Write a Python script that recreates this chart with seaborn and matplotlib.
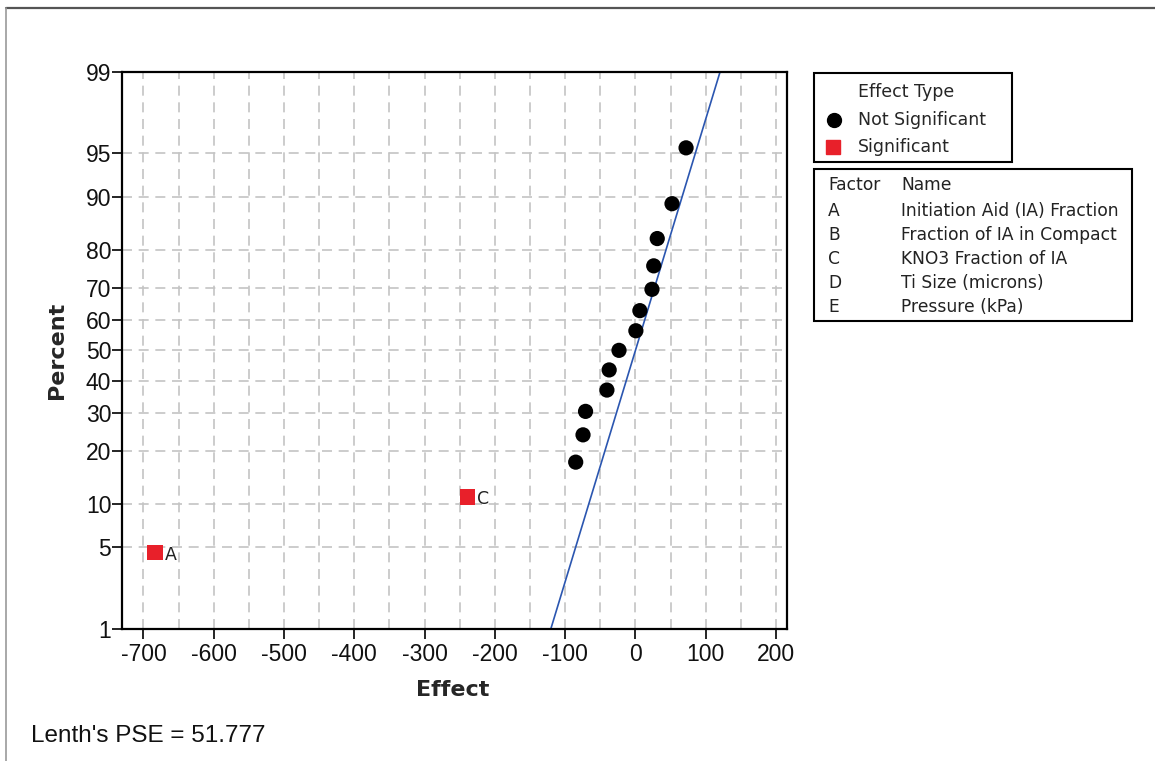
import numpy as np
import pandas as pd
import seaborn as sns
import matplotlib
matplotlib.use("Agg")
import matplotlib.pyplot as plt
from matplotlib.patches import Rectangle
from matplotlib.lines import Line2D
from statistics import NormalDist

# ---------------- data ----------------
effects = [-683.5, -239.0, -85.0, -74.6, -71.0, -40.6, -37.4, -23.4,
           0.6, 6.3, 23.5, 26.0, 31.0, 52.0, 72.0]
effect_type = ["Significant", "Significant"] + ["Not Significant"] * 13
point_labels = ["A", "C"] + [""] * 13
lenth_pse = 51.777
y_ticks_pct = [1, 5, 10, 20, 30, 40, 50, 60, 70, 80, 90, 95, 99]
x_ticks = [-700, -600, -500, -400, -300, -200, -100, 0, 100, 200]
factors = ["A", "B", "C", "D", "E"]
factor_names = ["Initiation Aid (IA) Fraction", "Fraction of IA in Compact",
                "KNO3 Fraction of IA", "Ti Size (microns)", "Pressure (kPa)"]

nd = NormalDist()
n = len(effects)
pct = [(i + 1 - 0.3) / (n + 0.4) for i in range(n)]
df = pd.DataFrame({"Effect": effects,
                   "z": [nd.inv_cdf(p) for p in pct],
                   "Type": effect_type,
                   "Label": point_labels})

# ---------------- figure ----------------
sns.set_style("white")
plt.rcParams['font.family'] = ['DejaVu Sans']
TICK_FONT = ['Liberation Sans', 'DejaVu Sans']
W, H = 1155, 761
fig = plt.figure(figsize=(W / 100, H / 100), dpi=100)

def fx(px):
    return px / W

def fy(py):
    return 1 - py / H

AX_L, AX_R, AX_T, AX_B = 121.7, 787, 71.7, 629
ax = fig.add_axes([fx(AX_L), fy(AX_B), fx(AX_R) - fx(AX_L), fy(AX_T) - fy(AX_B)])

zlo, zhi = nd.inv_cdf(0.01), nd.inv_cdf(0.99)

# grid
grid_kw = dict(color="#c4c4c4", lw=1.2, ls=(0, (6, 4)), zorder=0)
for xv in np.arange(-700, 201, 50):
    ax.axvline(xv, **grid_kw)
for p in y_ticks_pct[1:-1]:
    ax.axhline(nd.inv_cdf(p / 100), **grid_kw)

# fitted line
zz = np.linspace(zlo, zhi, 50)
line_df = pd.DataFrame({"Effect": lenth_pse * zz, "z": zz})
sns.lineplot(data=line_df, x="Effect", y="z", ax=ax, color="#2b56b0",
             lw=1.2, sort=False, zorder=2)

# points
sns.scatterplot(data=df, x="Effect", y="z", hue="Type", style="Type",
                palette={"Not Significant": "black", "Significant": "#e8202a"},
                markers={"Not Significant": "o", "Significant": "s"},
                s=120, linewidth=0, legend=False, ax=ax, zorder=3)
for _, r in df.iterrows():
    if r["Label"]:
        ax.annotate(r["Label"], (r["Effect"], r["z"]), xytext=(7, -5),
                    textcoords="offset points", fontsize=12.5, color="#222222",
                    family="DejaVu Sans")

ax.set_xlim(-730.9, 215.6)
ax.set_ylim(zlo, zhi)
ax.set_xticks(x_ticks)
ax.set_xticklabels([str(v) for v in x_ticks])
ax.set_yticks([nd.inv_cdf(p / 100) for p in y_ticks_pct])
ax.set_yticklabels([str(p) for p in y_ticks_pct])
for lab in ax.get_xticklabels() + ax.get_yticklabels():
    lab.set_family(TICK_FONT)
    lab.set_fontsize(16.5)
    lab.set_color("#111111")
ax.tick_params(axis="both", direction="out", length=7, width=1.2, color="black",
               bottom=True, left=True)
ax.tick_params(axis="y", pad=0.5)
ax.tick_params(axis="x", pad=3)
for sp in ax.spines.values():
    sp.set_color("black")
    sp.set_linewidth(1.6)
ax.set_xlabel("")
ax.set_ylabel("")

fig.text(fx(453), fy(690), "Effect", ha="center", va="center",
         fontsize=16, fontweight="bold")
fig.text(fx(57), fy(350), "Percent", ha="center", va="center",
         fontsize=16, fontweight="bold", rotation=90)
fig.text(fx(31), fy(736), "Lenth's PSE = 51.777", ha="left", va="center",
         fontsize=17.5, family=TICK_FONT, color="#111111")

# legend box 1
fig.patches.append(Rectangle((fx(814), fy(162)), fx(1012) - fx(814), fy(72.5) - fy(162),
                             transform=fig.transFigure, fill=False,
                             edgecolor="black", lw=1.5))
fig.text(fx(857.5), fy(92), "Effect Type", ha="left", va="center", fontsize=12.5)
fig.lines.append(Line2D([fx(834)], [fy(120)], marker="o", ms=10, color="black",
                        ls="none", transform=fig.transFigure))
fig.text(fx(857.5), fy(120), "Not Significant", ha="left", va="center", fontsize=12.5)
fig.lines.append(Line2D([fx(833)], [fy(147)], marker="s", ms=9.5, color="#e8202a",
                        ls="none", transform=fig.transFigure))
fig.text(fx(857.5), fy(146.5), "Significant", ha="left", va="center", fontsize=12.5)

# legend box 2
fig.patches.append(Rectangle((fx(814), fy(320.5)), fx(1131.5) - fx(814), fy(169) - fy(320.5),
                             transform=fig.transFigure, fill=False,
                             edgecolor="black", lw=1.5))
tbl_fs = 12.3
row_y = [211, 234.5, 259, 283.5, 307.5]
fig.text(fx(828), fy(185.5), "Factor", ha="left", va="center", fontsize=tbl_fs, color="#222222")
fig.text(fx(901), fy(185.5), "Name", ha="left", va="center", fontsize=tbl_fs, color="#222222")
for f, nm, yy in zip(factors, factor_names, row_y):
    fig.text(fx(828), fy(yy), f, ha="left", va="center", fontsize=tbl_fs, color="#222222")
    fig.text(fx(901), fy(yy), nm, ha="left", va="center", fontsize=tbl_fs, color="#222222")

# outer frame lines
fig.lines.append(Line2D([fx(6), 1], [fy(8), fy(8)], color="#555555", lw=1.6,
                        transform=fig.transFigure))
fig.lines.append(Line2D([fx(6), fx(6)], [fy(8), 0], color="#999999", lw=1.2,
                        transform=fig.transFigure))

fig.savefig("out.png", dpi=100, facecolor="white")
